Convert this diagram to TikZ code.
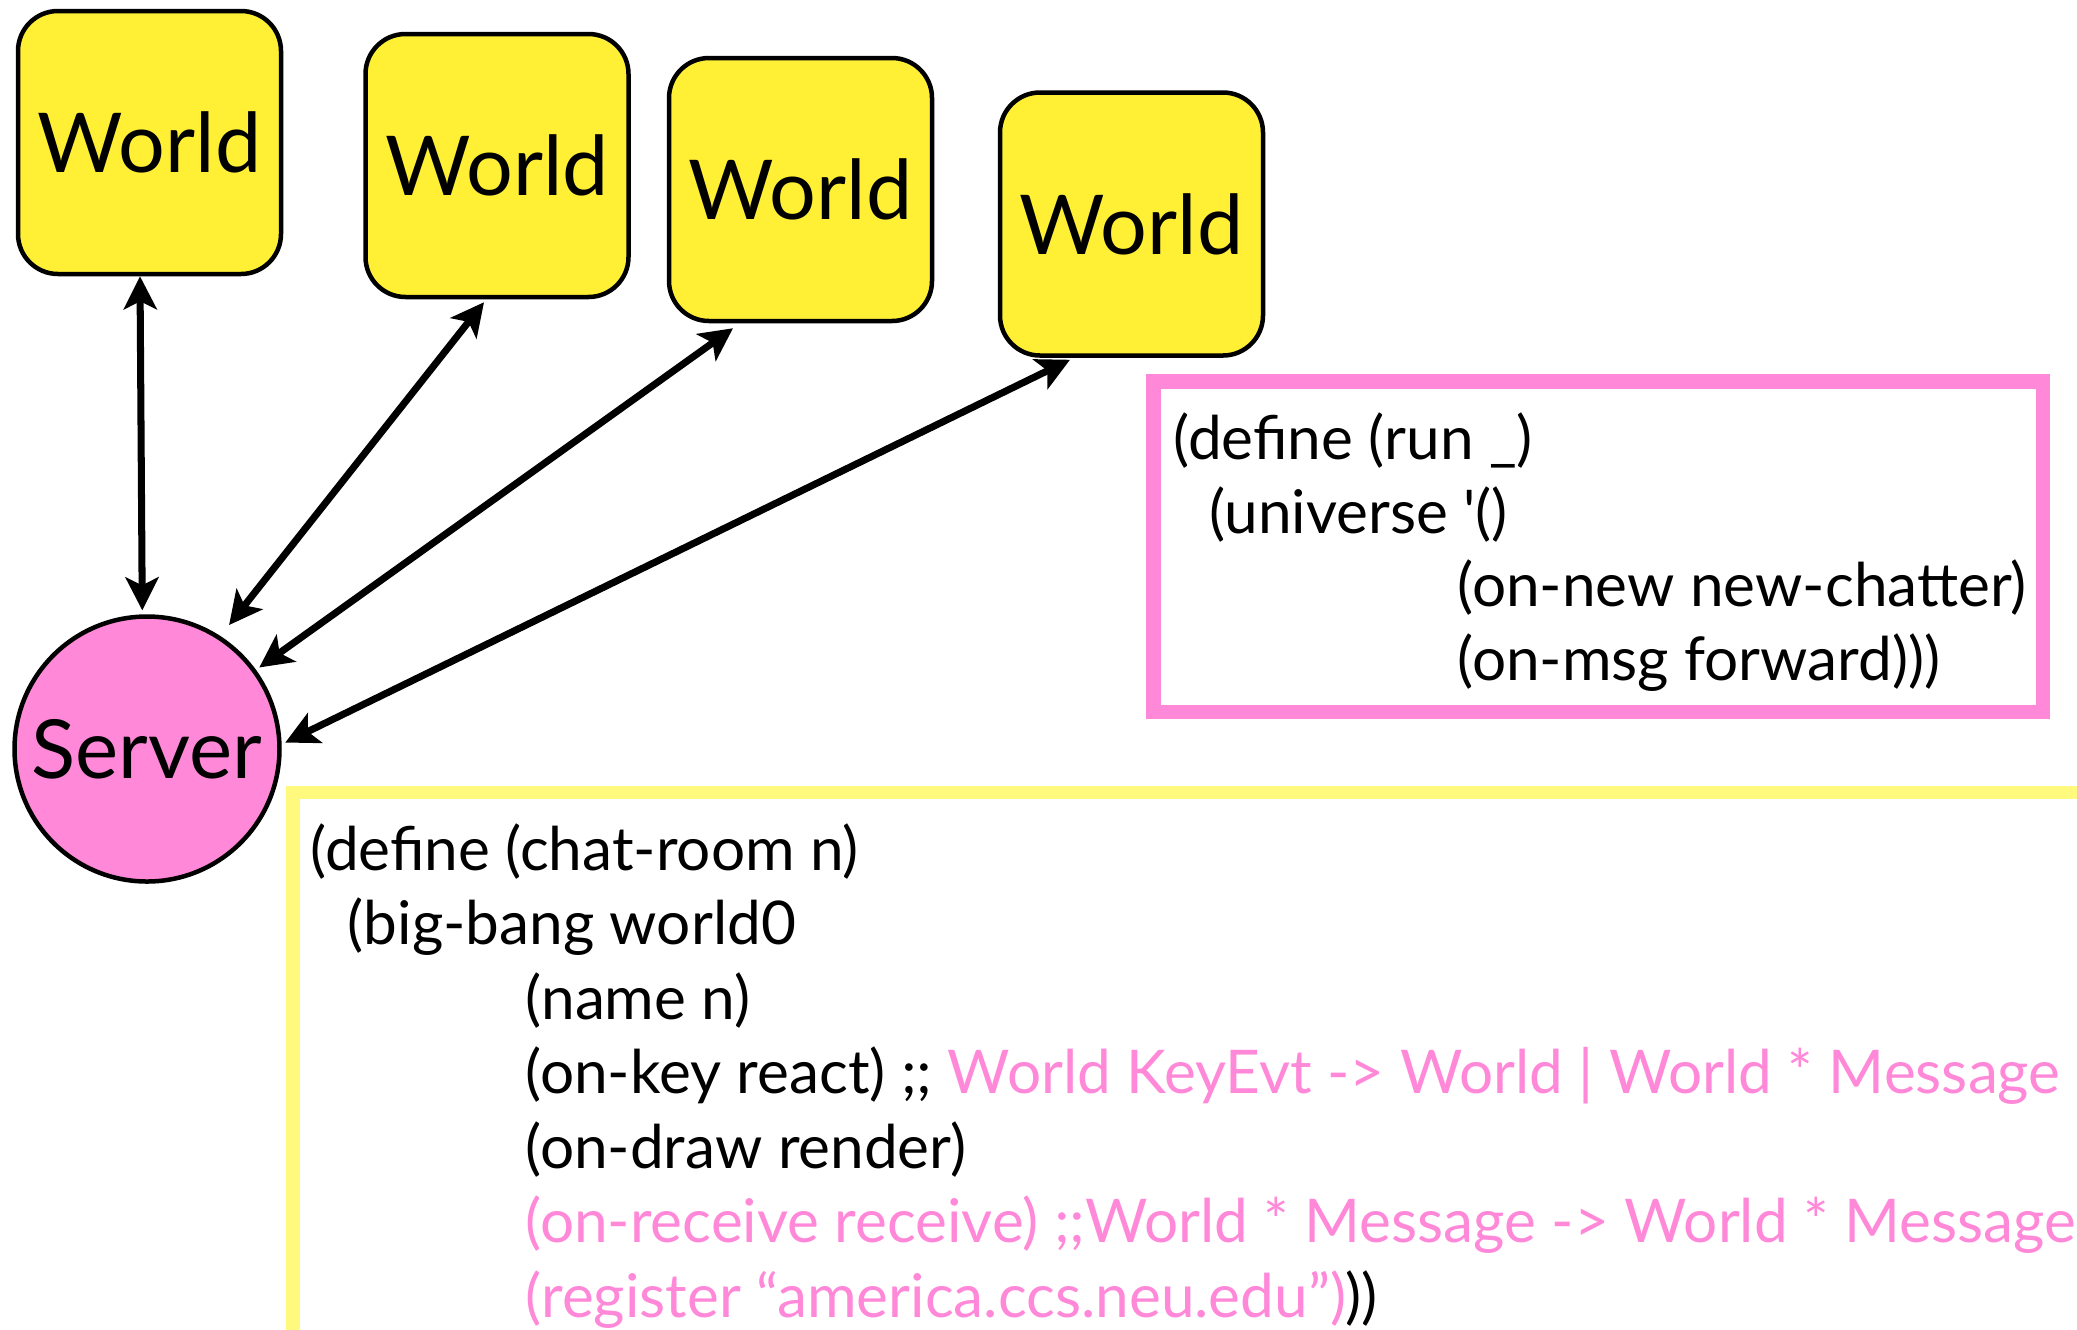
\documentclass[tikz,border=0pt]{standalone}
\usepackage{fontspec}
\setmainfont{Lato}
\usetikzlibrary{arrows.meta,calc}

\definecolor{worldyellow}{HTML}{FFF035}
\definecolor{serverpink}{HTML}{FF89D8}
\definecolor{codeyellow}{HTML}{FFFA7D}

\tikzset{
  world/.style={draw=black, line width=1.28pt, fill=worldyellow,
    rounded corners=4mm, minimum width=26.3mm, minimum height=26.3mm,
    inner sep=0pt, font=\fontsize{23.5}{28}\selectfont},
  server/.style={circle, draw=black, line width=1.28pt, fill=serverpink,
    minimum size=26.5mm, inner sep=0pt, font=\fontsize{23.2}{28}\selectfont},
  link/.style={line width=2pt, {Stealth[length=9.4pt, width=9.4pt, inset=2.3pt]}-{Stealth[length=9.4pt, width=9.4pt, inset=2.3pt]}},
  codeline/.style={anchor=base west, inner sep=0pt, font=\fontsize{17.15}{20}\selectfont},
  note/.style={text=serverpink}
}

\begin{document}
\begin{tikzpicture}[x=0.1mm, y=-0.1mm]
\useasboundingbox (0,0) rectangle (2077,1329);
\begin{scope}
\clip (0,0) rectangle (2077,1329);

% code panels
\draw[serverpink, line width=1.45mm] (1153.5,381.5) rectangle (2043,712);
\draw[codeyellow, line width=1.35mm] (293,792.5) rectangle (2200,1450);

% clients and server
\node[world] (w1) at (149.5,142.5) {World};
\node[world] (w2) at (497,165.5) {World};
\node[world] (w3) at (800.5,189.5) {World};
\node[world] (w4) at (1131.5,224) {World};
\node[server] (srv) at (147,749) {Server};

% connections
\draw[link, shorten >=0.4mm] ($(w1.south)+(-9.5,0)$) -- (srv.92);
\draw[link, shorten >=1.4mm] ($(w2.south)+(-13,3)$) -- (srv.57);
\draw[link, shorten >=0.4mm] ($(w3.south)+(-67.5,5)$) -- (srv.36);
\draw[link, shorten >=0.4mm] ($(w4.south)+(-61.5,2)$) -- (srv.2);

% universe program
\node[codeline] (r1) at (1173,459) {(define (run \_)};
\node[codeline] (r2) at (1209,533) {(universe \textquotesingle()};
\node[codeline] (r3) at (1457,606) {(on-new new-chatter)};
\node[codeline] (r4) at (1457,680) {(on-msg forward)))};

% world program
\node[codeline] (c1) at (310,870) {(define (chat-room n)};
\node[codeline] (c2) at (347,944) {(big-bang world0};
\node[codeline] (c3) at (525,1019) {(name n)};
\node[codeline] (c4) at (525,1093) {(on-key react) ;; \textcolor{serverpink}{World KeyEvt -> World | World * Message}};
\node[codeline] (c5) at (525,1168) {(on-draw render)};
\node[codeline, note] (c6) at (525,1242) {(on-receive receive) ;;World * Message -> World * Message};
\node[codeline] (c7) at (525,1317) {\textcolor{serverpink}{(register “america.ccs.neu.edu”)}))};
\end{scope}
\end{tikzpicture}
\end{document}
